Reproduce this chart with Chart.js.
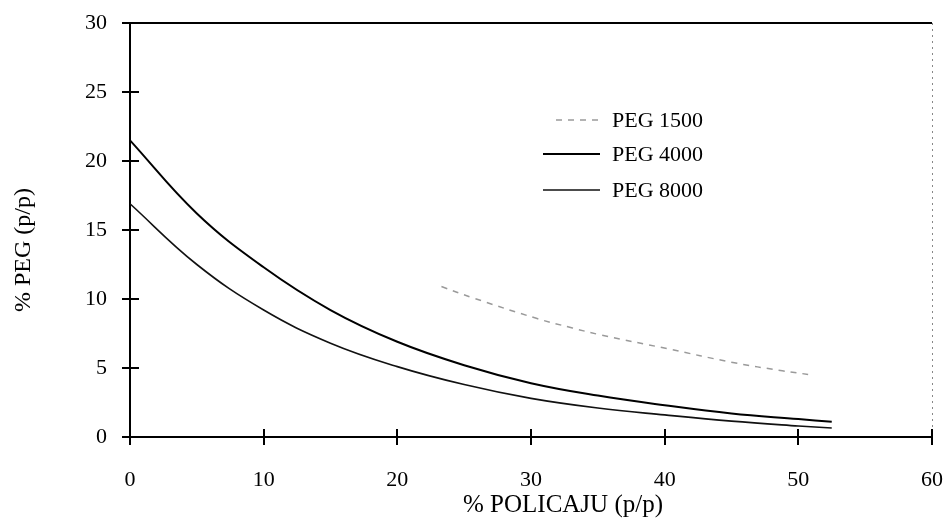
<!DOCTYPE html>
<html>
<head>
<meta charset="utf-8">
<script src="https://cdn.jsdelivr.net/npm/chart.js@4/dist/chart.umd.min.js"></script>
<style>
  html, body { margin: 0; padding: 0; background: #fff; }
  #wrap { width: 947px; height: 518px; position: relative; }
</style>
</head>
<body>
<div id="wrap"><canvas id="c" width="947" height="518"></canvas></div>
<script>
// ---- data ----
const xTitle = '% POLICAJU (p/p)';
const yTitle = '% PEG (p/p)';
const seriesNames = ['PEG 1500', 'PEG 4000', 'PEG 8000'];

const peg1500X = [23.3, 25.6, 30.4, 33.1, 35.2, 40.2, 45.1, 48.8, 51.0];
const peg1500Y = [10.9, 10.1, 8.6, 7.9, 7.4, 6.4, 5.4, 4.8, 4.5];

const pegX     = [0, 5, 10, 15, 20, 25, 30, 35, 40, 45, 50, 52.5];
const peg4000Y = [21.5, 16.2, 12.3, 9.2, 6.9, 5.2, 3.9, 3.0, 2.3, 1.7, 1.3, 1.1];
const peg8000Y = [16.9, 12.5, 9.2, 6.8, 5.1, 3.8, 2.8, 2.1, 1.6, 1.15, 0.8, 0.65];

const xTicks = [0, 10, 20, 30, 40, 50, 60];
const yTicks = [0, 5, 10, 15, 20, 25, 30];

const toPts = (xs, ys) => xs.map((x, i) => ({ x: x, y: ys[i] }));

const FONT = '"Liberation Serif", "Times New Roman", serif';

// cross tick marks, borders, legend and axis titles
const decor = {
  id: 'decor',
  afterDraw(chart) {
    const ctx = chart.ctx;
    const a = chart.chartArea;
    const xs = chart.scales.x, ys = chart.scales.y;
    ctx.save();
    // right border (faint dotted)
    ctx.strokeStyle = '#888';
    ctx.lineWidth = 1;
    ctx.setLineDash([2, 4]);
    ctx.beginPath();
    ctx.moveTo(a.right + 0.5, a.top);
    ctx.lineTo(a.right + 0.5, a.bottom);
    ctx.stroke();
    ctx.setLineDash([]);
    // top border
    ctx.strokeStyle = '#000';
    ctx.lineWidth = 2;
    ctx.beginPath();
    ctx.moveTo(a.left, a.top);
    ctx.lineTo(a.right, a.top);
    ctx.stroke();
    // cross ticks
    ctx.lineWidth = 2;
    xTicks.forEach(v => {
      const px = Math.round(xs.getPixelForValue(v));
      ctx.beginPath();
      ctx.moveTo(px, a.bottom - 8);
      ctx.lineTo(px, a.bottom + 8);
      ctx.stroke();
    });
    yTicks.forEach(v => {
      const py = Math.round(ys.getPixelForValue(v));
      ctx.beginPath();
      ctx.moveTo(a.left - 8, py);
      ctx.lineTo(a.left + 9, py);
      ctx.stroke();
    });
    // legend
    const rows = [120, 154, 190];
    chart.data.datasets.forEach((ds, i) => {
      const y = rows[i];
      ctx.strokeStyle = ds.borderColor;
      ctx.lineWidth = ds.borderWidth;
      ctx.setLineDash(ds.borderDash || []);
      ctx.beginPath();
      ctx.moveTo(i === 0 ? 556 : 543, y);
      ctx.lineTo(600, y);
      ctx.stroke();
      ctx.setLineDash([]);
      ctx.fillStyle = '#000';
      ctx.font = '22px ' + FONT;
      ctx.textAlign = 'left';
      ctx.textBaseline = 'middle';
      ctx.fillText(ds.label, 612, y + 1);
    });
    // axis titles
    ctx.fillStyle = '#000';
    ctx.textAlign = 'center';
    ctx.textBaseline = 'middle';
    ctx.font = '25px ' + FONT;
    ctx.fillText(xTitle, 563, 505);
    ctx.save();
    ctx.translate(24, 250);
    ctx.rotate(-Math.PI / 2);
    ctx.font = '24px ' + FONT;
    ctx.fillText(yTitle, 0, 0);
    ctx.restore();
    ctx.restore();
  }
};

new Chart(document.getElementById('c'), {
  type: 'line',
  data: {
    datasets: [
      {
        label: seriesNames[0],
        data: toPts(peg1500X, peg1500Y),
        borderColor: '#9a9a9a',
        borderWidth: 1.5,
        borderDash: [6, 6],
        pointRadius: 0,
        tension: 0.4,
        fill: false
      },
      {
        label: seriesNames[1],
        data: toPts(pegX, peg4000Y),
        borderColor: '#000',
        borderWidth: 2,
        pointRadius: 0,
        tension: 0.4,
        fill: false
      },
      {
        label: seriesNames[2],
        data: toPts(pegX, peg8000Y),
        borderColor: '#111',
        borderWidth: 1.6,
        pointRadius: 0,
        tension: 0.4,
        fill: false
      }
    ]
  },
  options: {
    responsive: false,
    animation: false,
    layout: { padding: { left: 0, right: 15, top: 23, bottom: 0 } },
    plugins: { legend: { display: false }, tooltip: { enabled: false } },
    scales: {
      x: {
        type: 'linear',
        min: 0, max: 60,
        afterBuildTicks: s => { s.ticks = xTicks.map(v => ({ value: v })); },
        afterFit: s => { s.height = 81; s.paddingLeft = 0; s.paddingRight = 0; },
        grid: { display: false, drawTicks: false },
        border: { display: true, color: '#000', width: 2 },
        ticks: { color: '#000', padding: 30, font: { family: FONT, size: 22 } },
        title: { display: false, text: xTitle }
      },
      y: {
        type: 'linear',
        min: 0, max: 30,
        afterBuildTicks: s => { s.ticks = yTicks.map(v => ({ value: v })); },
        afterFit: s => { s.width = 130; s.paddingTop = 0; s.paddingBottom = 0; },
        grid: { display: false, drawTicks: false },
        border: { display: true, color: '#000', width: 2 },
        ticks: { color: '#000', padding: 23, font: { family: FONT, size: 22 } },
        title: { display: false, text: yTitle }
      }
    }
  },
  plugins: [decor]
});
</script>
</body>
</html>
